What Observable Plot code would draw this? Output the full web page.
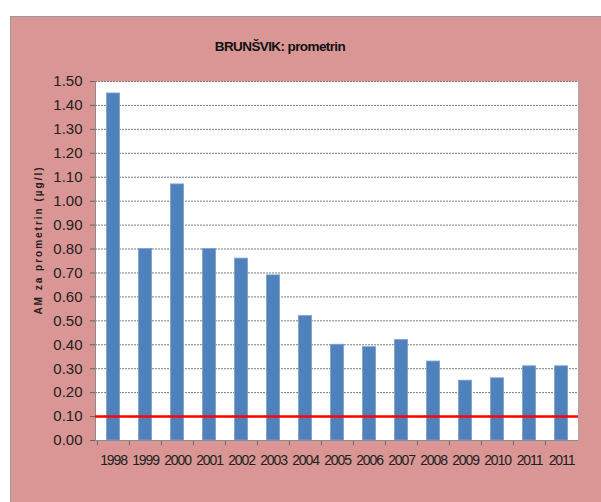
<!DOCTYPE html>
<html><head><meta charset="utf-8">
<script src="https://cdn.jsdelivr.net/npm/d3@7"></script>
<script src="https://cdn.jsdelivr.net/npm/@observablehq/plot@0.6"></script>
<style>
body{margin:0;background:#fff;width:601px;height:502px;overflow:hidden;position:relative;font-family:"Liberation Sans",Arial,sans-serif}
#box{position:absolute;left:10px;top:16px;width:590px;height:485px;border-left:1px solid #9a9a9a;border-top:1px solid #9a9a9a;background:#d99694}
#title{position:absolute;left:0;width:538px;top:22px;text-align:center;font:bold 13.5px "Liberation Sans",Arial,sans-serif;letter-spacing:-0.6px;color:#111}
#ylab{position:absolute;left:27px;top:223px;transform:translate(-50%,-50%) rotate(-90deg);white-space:nowrap;font:bold 10px "Liberation Sans",Arial,sans-serif;letter-spacing:2px;color:#222}
#chart{position:absolute;left:0;top:0}
</style></head>
<body>
<div id="box">
<div id="chart"></div>
<div id="title">BRUNŠVIK: prometrin</div>
<div id="ylab">AM za prometrin (µg/l)</div>
</div>
<script>
const years = ["1998","1999","2000","2001","2002","2003","2004","2005","2006","2007","2008","2009","2010","2011","2011"];
const values = [1.45,0.80,1.07,0.80,0.76,0.69,0.52,0.40,0.39,0.42,0.33,0.25,0.26,0.31,0.31];
const limit = [0.10];
const yTicks = [0,0.1,0.2,0.3,0.4,0.5,0.6,0.7,0.8,0.9,1.0,1.1,1.2,1.3,1.4,1.5];

const rows = years.map((y, i) => ({i, year: y, value: values[i]}));
const idx = rows.map(d => d.i);

const chart = Plot.plot({
  width: 590,
  height: 485,
  marginLeft: 84,
  marginTop: 64,
  marginRight: 23,
  marginBottom: 62,
  style: {background: "transparent", overflow: "visible"},
  x: {type: "band", domain: idx, padding: 0},
  y: {domain: [0, 1.5]},
  marks: [
    Plot.frame({fill: "white", stroke: "none"}),
    Plot.gridY(yTicks, {stroke: "#7a7a7a", strokeOpacity: 1, strokeDasharray: "2,1"}),
    Plot.barY(rows, {x: "i", y: "value", fill: "#4f81bd", stroke: "#7fa3d0", strokeWidth: 0.8, insetLeft: 9.4, insetRight: 9.4}),
    Plot.frame({stroke: "#8c8c8c", anchor: "left"}),
    Plot.frame({stroke: "#a8a8a8", anchor: "right"}),
    Plot.axisY({ticks: yTicks, tickFormat: d => d.toFixed(2), tickSize: 5, tickPadding: 8, label: null,
      fontSize: 15, fontFamily: "'Liberation Sans',Arial,sans-serif", color: "#222", stroke: "#666"}),
    Plot.axisX(idx, {tickSize: 5, tickFormat: () => "", dx: -16.1, label: null, stroke: "#666"}),
    Plot.axisX(idx, {tickSize: 0, tickPadding: 15, tickFormat: i => years[i], label: null,
      fontSize: 14, fontFamily: "'Liberation Sans',Arial,sans-serif", color: "#222"}),
    Plot.ruleY([0], {stroke: "#8c8c8c"}),
    Plot.ruleY(limit, {stroke: "#ff0000", strokeWidth: 2.5})
  ]
});
chart.querySelectorAll("g[aria-label='x-axis tick label'] text").forEach(t => t.style.letterSpacing = "-1.1px");
document.getElementById("chart").appendChild(chart);
</script>
</body></html>
